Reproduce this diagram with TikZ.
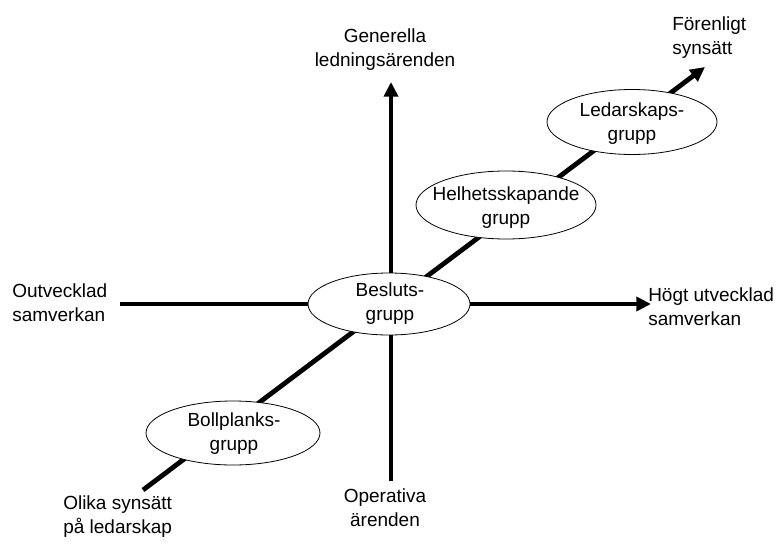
\documentclass[tikz,border=0pt]{standalone}
\usepackage{fontspec}
\setmainfont{Liberation Sans}
\usetikzlibrary{shapes.geometric,arrows.meta}
\pgfdeclarelayer{background}
\pgfsetlayers{background,main}
\tikzset{
  lbl/.style={inner sep=0pt, font=\fontsize{14.25}{18}\selectfont},
  grp/.style={ellipse, draw, line width=0.6pt, fill=white, inner sep=0pt},
  axisarrow/.style={line width=3.6pt, -{Triangle[length=11pt,width=10.5pt]}}
}
\begin{document}
\begin{tikzpicture}[x=0.75pt,y=-0.75pt]
\useasboundingbox (0,0) rectangle (777,552);
% axis end points
\coordinate (vtop) at (391,82);
\coordinate (vbot) at (391,481);
\coordinate (hleft) at (120,304);
\coordinate (hright) at (651,304);
\coordinate (dlow) at (143,490);
\coordinate (dhigh) at (705,67);
% ellipses
\node[grp, minimum width=121.5pt, minimum height=46.5pt] (besl) at (389,304) {};
\node[lbl, align=center] (beslt) at (390,304) {Besluts-\\grupp};
\node[grp, minimum width=127.5pt, minimum height=48.75pt] (ledar) at (632,122) {};
\node[lbl, align=center] (ledart) at (632,124) {Ledarskaps-\\grupp};
\node[grp, minimum width=135pt, minimum height=51pt] (helh) at (506,205) {};
\node[lbl, align=center] (helht) at (506,208) {Helhetsskapande\\grupp};
\node[grp, minimum width=130.5pt, minimum height=48pt] (boll) at (233,433) {};
\node[lbl, align=center] (bollt) at (234,434) {Bollplanks-\\grupp};
% axis labels
\node[lbl, align=center] (gen) at (385,50) {Generella\\ledningsärenden};
\node[lbl, align=left, anchor=west] (foren) at (672,38) {Förenligt\\synsätt};
\node[lbl, align=left, anchor=west] (outv) at (12,303) {Outvecklad\\samverkan};
\node[lbl, align=left, anchor=west] (hogt) at (648,307) {Högt utvecklad\\samverkan};
\node[lbl, align=left, anchor=west] (olika) at (63,517) {Olika synsätt\\på ledarskap};
\node[lbl, align=center] (oper) at (385,508) {Operativa\\ärenden};
% axes
\begin{pgfonlayer}{background}
\draw[axisarrow] (vbot) -- (vtop);
\draw[axisarrow] (hleft) -- (hright);
\draw[axisarrow] (dlow) -- (dhigh);
\end{pgfonlayer}
\end{tikzpicture}
\end{document}
